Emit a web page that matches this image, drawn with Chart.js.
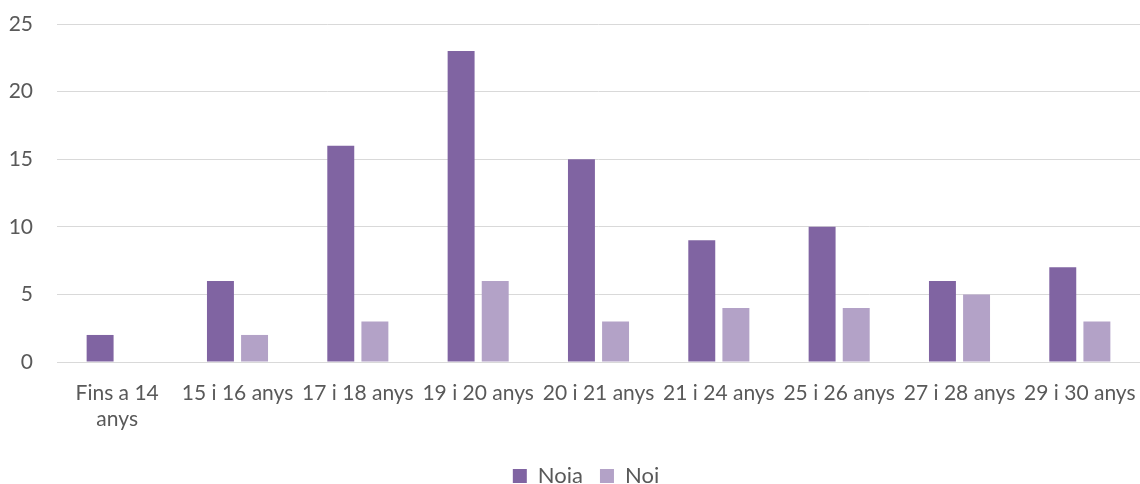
<!DOCTYPE html>
<html>
<head>
<meta charset="utf-8">
<script src="https://cdn.jsdelivr.net/npm/chart.js@4"></script>
<style>
  html, body { margin: 0; padding: 0; background: #fff; }
  #wrap { width: 1140px; height: 484px; position: relative; }
</style>
</head>
<body>
<div id="wrap"><canvas id="grafico"></canvas></div>
<script>
const categories = [['Fins a 14', 'anys'], '15 i 16 anys', '17 i 18 anys', '19 i 20 anys', '20 i 21 anys', '21 i 24 anys', '25 i 26 anys', '27 i 28 anys', '29 i 30 anys'];
const noia = [2, 6, 16, 23, 15, 9, 10, 6, 7];
const noi = [null, 2, 3, 6, 3, 4, 4, 5, 3];
const yTicks = [0, 5, 10, 15, 20, 25];

const textColor = '#595959';
const font = { family: 'Lato, "Open Sans", sans-serif', size: 21 };

const ctx = document.getElementById('grafico').getContext('2d');

// la llegenda de l'original esta centrada sobre l'area del grafic, no sobre el llenc
const moureLlegenda = {
  id: 'moureLlegenda',
  afterLayout(chart) {
    const dx = 16;
    chart.legend.left += dx;
    chart.legend.right += dx;
  }
};

new Chart(ctx, {
  type: 'bar',
  data: {
    labels: categories,
    datasets: [
      {
        label: 'Noia',
        data: noia,
        backgroundColor: '#8064a2',
        categoryPercentage: 0.567,
        barPercentage: 0.79
      },
      {
        label: 'Noi',
        data: noi,
        backgroundColor: '#b3a2c7',
        categoryPercentage: 0.567,
        barPercentage: 0.79
      }
    ]
  },
  plugins: [moureLlegenda],
  options: {
    responsive: true,
    maintainAspectRatio: false,
    animation: false,
    layout: { padding: { top: 24, right: 0, left: 0, bottom: -13 } },
    plugins: {
      legend: {
        display: true,
        position: 'bottom',
        labels: {
          color: textColor,
          font: { family: font.family, size: 22 },
          boxWidth: 14,
          boxHeight: 14,
          padding: 17
        }
      },
      tooltip: { enabled: false }
    },
    scales: {
      x: {
        grid: { display: false },
        border: { display: true, color: '#d9d9d9', width: 1 },
        ticks: { color: textColor, font: font, maxRotation: 0, autoSkip: false, padding: 11 },
        afterFit: s => { s.height = 86; s.paddingLeft = 0; s.paddingRight = 0; }
      },
      y: {
        min: 0,
        max: 25,
        afterBuildTicks: s => { s.ticks = yTicks.map(v => ({ value: v })); },
        grid: { color: '#d9d9d9', lineWidth: 1, drawTicks: false },
        border: { display: false },
        ticks: { color: textColor, font: font, padding: 24 },
        afterFit: s => { s.width = 57; s.paddingTop = 0; s.paddingBottom = 0; }
      }
    }
  }
});
</script>
</body>
</html>
